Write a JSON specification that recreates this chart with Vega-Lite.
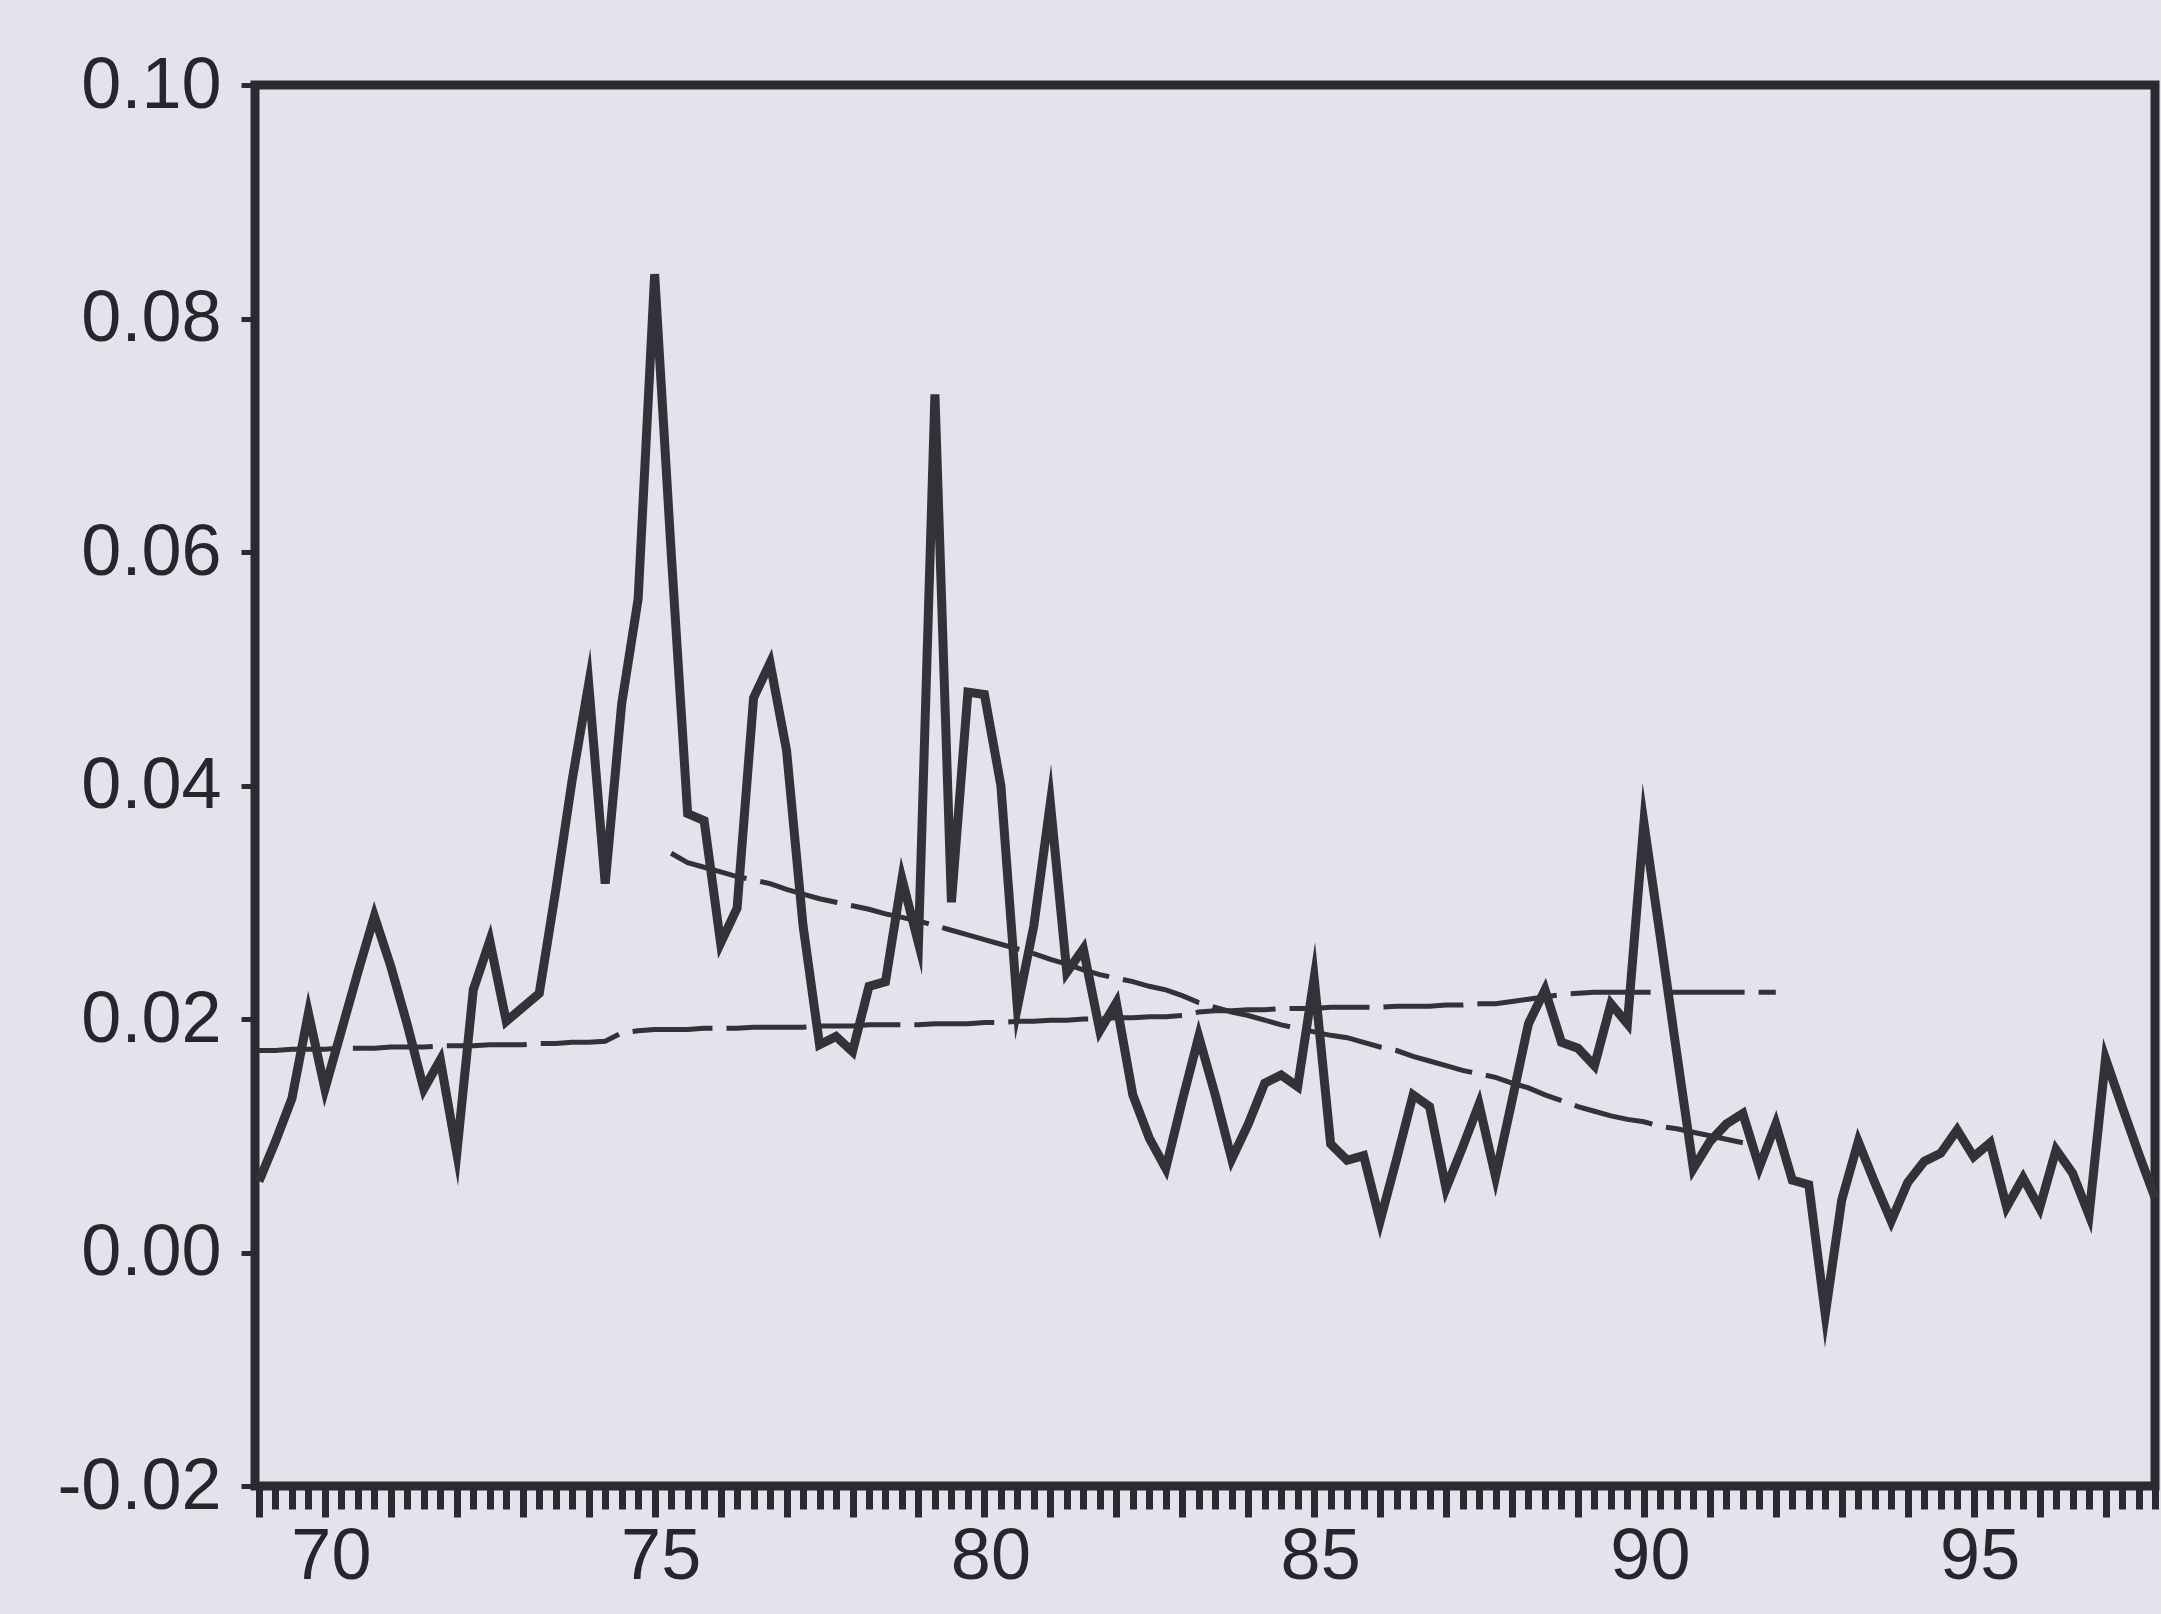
{
  "$schema": "https://vega.github.io/schema/vega-lite/v6.json",
  "width": 1900,
  "height": 1401,
  "autosize": {"type": "none"},
  "padding": {"left": 255, "top": 85, "right": 6, "bottom": 128},
  "background": "#e4e3ec",
  "datasets": {
    "actual": [
      {"t": 69, "v": 0.0061}, {"t": 69.25, "v": 0.0095}, {"t": 69.5, "v": 0.0132}, {"t": 69.75, "v": 0.0205},
      {"t": 70, "v": 0.0140}, {"t": 70.25, "v": 0.0190}, {"t": 70.5, "v": 0.0240}, {"t": 70.75, "v": 0.0288},
      {"t": 71, "v": 0.0245}, {"t": 71.25, "v": 0.0195}, {"t": 71.5, "v": 0.0140}, {"t": 71.75, "v": 0.0165},
      {"t": 72, "v": 0.0085}, {"t": 72.25, "v": 0.0225}, {"t": 72.5, "v": 0.0267}, {"t": 72.75, "v": 0.0198},
      {"t": 73, "v": 0.0210}, {"t": 73.25, "v": 0.0222}, {"t": 73.5, "v": 0.0310}, {"t": 73.75, "v": 0.0405},
      {"t": 74, "v": 0.0487}, {"t": 74.25, "v": 0.0316}, {"t": 74.5, "v": 0.0470}, {"t": 74.75, "v": 0.0560},
      {"t": 75, "v": 0.0838}, {"t": 75.25, "v": 0.0600}, {"t": 75.5, "v": 0.0376}, {"t": 75.75, "v": 0.0370},
      {"t": 76, "v": 0.0265}, {"t": 76.25, "v": 0.0295}, {"t": 76.5, "v": 0.0475}, {"t": 76.75, "v": 0.0505},
      {"t": 77, "v": 0.0430}, {"t": 77.25, "v": 0.0280}, {"t": 77.5, "v": 0.0178}, {"t": 77.75, "v": 0.0185},
      {"t": 78, "v": 0.0172}, {"t": 78.25, "v": 0.0228}, {"t": 78.5, "v": 0.0232}, {"t": 78.75, "v": 0.0320},
      {"t": 79, "v": 0.0265}, {"t": 79.25, "v": 0.0735}, {"t": 79.5, "v": 0.0300}, {"t": 79.75, "v": 0.0480},
      {"t": 80, "v": 0.0478}, {"t": 80.25, "v": 0.0400}, {"t": 80.5, "v": 0.0210}, {"t": 80.75, "v": 0.0280},
      {"t": 81, "v": 0.0385}, {"t": 81.25, "v": 0.0240}, {"t": 81.5, "v": 0.0260}, {"t": 81.75, "v": 0.0190},
      {"t": 82, "v": 0.0214}, {"t": 82.25, "v": 0.0135}, {"t": 82.5, "v": 0.0098}, {"t": 82.75, "v": 0.0072},
      {"t": 83, "v": 0.0130}, {"t": 83.25, "v": 0.0185}, {"t": 83.5, "v": 0.0135}, {"t": 83.75, "v": 0.0080},
      {"t": 84, "v": 0.0110}, {"t": 84.25, "v": 0.0145}, {"t": 84.5, "v": 0.0152}, {"t": 84.75, "v": 0.0142},
      {"t": 85, "v": 0.0235}, {"t": 85.25, "v": 0.0093}, {"t": 85.5, "v": 0.0079}, {"t": 85.75, "v": 0.0083},
      {"t": 86, "v": 0.0027}, {"t": 86.25, "v": 0.0080}, {"t": 86.5, "v": 0.0135}, {"t": 86.75, "v": 0.0125},
      {"t": 87, "v": 0.0055}, {"t": 87.25, "v": 0.0090}, {"t": 87.5, "v": 0.0127}, {"t": 87.75, "v": 0.0065},
      {"t": 88, "v": 0.0130}, {"t": 88.25, "v": 0.0196}, {"t": 88.5, "v": 0.0225}, {"t": 88.75, "v": 0.0180},
      {"t": 89, "v": 0.0175}, {"t": 89.25, "v": 0.0160}, {"t": 89.5, "v": 0.0213}, {"t": 89.75, "v": 0.0196},
      {"t": 90, "v": 0.0368}, {"t": 90.25, "v": 0.0270}, {"t": 90.5, "v": 0.0170}, {"t": 90.75, "v": 0.0072},
      {"t": 91, "v": 0.0095}, {"t": 91.25, "v": 0.0110}, {"t": 91.5, "v": 0.0119}, {"t": 91.75, "v": 0.0073},
      {"t": 92, "v": 0.0110}, {"t": 92.25, "v": 0.0062}, {"t": 92.5, "v": 0.0058}, {"t": 92.75, "v": -0.0053},
      {"t": 93, "v": 0.0045}, {"t": 93.25, "v": 0.0095}, {"t": 93.5, "v": 0.0060}, {"t": 93.75, "v": 0.0027},
      {"t": 94, "v": 0.0060}, {"t": 94.25, "v": 0.0078}, {"t": 94.5, "v": 0.0085}, {"t": 94.75, "v": 0.0105},
      {"t": 95, "v": 0.0082}, {"t": 95.25, "v": 0.0094}, {"t": 95.5, "v": 0.0039}, {"t": 95.75, "v": 0.0064},
      {"t": 96, "v": 0.0038}, {"t": 96.25, "v": 0.0088}, {"t": 96.5, "v": 0.0068}, {"t": 96.75, "v": 0.0032},
      {"t": 97, "v": 0.0166}, {"t": 97.25, "v": 0.0125}, {"t": 97.5, "v": 0.0085}, {"t": 97.75, "v": 0.0047}
    ],
    "level": [
      {"t": 69, "v": 0.0173}, {"t": 69.25, "v": 0.0173}, {"t": 69.5, "v": 0.0174}, {"t": 69.75, "v": 0.0174},
      {"t": 70, "v": 0.0174}, {"t": 70.25, "v": 0.0175}, {"t": 70.5, "v": 0.0175}, {"t": 70.75, "v": 0.0175},
      {"t": 71, "v": 0.0176}, {"t": 71.25, "v": 0.0176}, {"t": 71.5, "v": 0.0176}, {"t": 71.75, "v": 0.0177},
      {"t": 72, "v": 0.0177}, {"t": 72.25, "v": 0.0177}, {"t": 72.5, "v": 0.0178}, {"t": 72.75, "v": 0.0178},
      {"t": 73, "v": 0.0178}, {"t": 73.25, "v": 0.0179}, {"t": 73.5, "v": 0.0179}, {"t": 73.75, "v": 0.0180},
      {"t": 74, "v": 0.0180}, {"t": 74.25, "v": 0.0181}, {"t": 74.5, "v": 0.0188}, {"t": 74.75, "v": 0.0190},
      {"t": 75, "v": 0.0191}, {"t": 75.25, "v": 0.0191}, {"t": 75.5, "v": 0.0191}, {"t": 75.75, "v": 0.0192},
      {"t": 76, "v": 0.0192}, {"t": 76.25, "v": 0.0192}, {"t": 76.5, "v": 0.0193}, {"t": 76.75, "v": 0.0193},
      {"t": 77, "v": 0.0193}, {"t": 77.25, "v": 0.0193}, {"t": 77.5, "v": 0.0194}, {"t": 77.75, "v": 0.0194},
      {"t": 78, "v": 0.0194}, {"t": 78.25, "v": 0.0195}, {"t": 78.5, "v": 0.0195}, {"t": 78.75, "v": 0.0195},
      {"t": 79, "v": 0.0195}, {"t": 79.25, "v": 0.0196}, {"t": 79.5, "v": 0.0196}, {"t": 79.75, "v": 0.0196},
      {"t": 80, "v": 0.0197}, {"t": 80.25, "v": 0.0197}, {"t": 80.5, "v": 0.0198}, {"t": 80.75, "v": 0.0198},
      {"t": 81, "v": 0.0199}, {"t": 81.25, "v": 0.0199}, {"t": 81.5, "v": 0.0200}, {"t": 81.75, "v": 0.0200},
      {"t": 82, "v": 0.0201}, {"t": 82.25, "v": 0.0201}, {"t": 82.5, "v": 0.0202}, {"t": 82.75, "v": 0.0202},
      {"t": 83, "v": 0.0203}, {"t": 83.25, "v": 0.0206}, {"t": 83.5, "v": 0.0207}, {"t": 83.75, "v": 0.0207},
      {"t": 84, "v": 0.0208}, {"t": 84.25, "v": 0.0208}, {"t": 84.5, "v": 0.0209}, {"t": 84.75, "v": 0.0209},
      {"t": 85, "v": 0.0209}, {"t": 85.25, "v": 0.0210}, {"t": 85.5, "v": 0.0210}, {"t": 85.75, "v": 0.0210},
      {"t": 86, "v": 0.0210}, {"t": 86.25, "v": 0.0211}, {"t": 86.5, "v": 0.0211}, {"t": 86.75, "v": 0.0211},
      {"t": 87, "v": 0.0212}, {"t": 87.25, "v": 0.0212}, {"t": 87.5, "v": 0.0213}, {"t": 87.75, "v": 0.0213},
      {"t": 88, "v": 0.0215}, {"t": 88.25, "v": 0.0217}, {"t": 88.5, "v": 0.0219}, {"t": 88.75, "v": 0.0221},
      {"t": 89, "v": 0.0222}, {"t": 89.25, "v": 0.0223}, {"t": 89.5, "v": 0.0223}, {"t": 89.75, "v": 0.0223},
      {"t": 90, "v": 0.0223}, {"t": 90.25, "v": 0.0223}, {"t": 90.5, "v": 0.0223}, {"t": 90.75, "v": 0.0223},
      {"t": 91, "v": 0.0223}, {"t": 91.25, "v": 0.0223}, {"t": 91.5, "v": 0.0223}, {"t": 91.75, "v": 0.0223},
      {"t": 92, "v": 0.0223}
    ],
    "trend": [
      {"t": 75.25, "v": 0.0342}, {"t": 75.5, "v": 0.0334}, {"t": 75.75, "v": 0.0330},
      {"t": 76, "v": 0.0326}, {"t": 76.25, "v": 0.0322}, {"t": 76.5, "v": 0.0319}, {"t": 76.75, "v": 0.0316},
      {"t": 77, "v": 0.0311}, {"t": 77.25, "v": 0.0307}, {"t": 77.5, "v": 0.0303}, {"t": 77.75, "v": 0.0300},
      {"t": 78, "v": 0.0297}, {"t": 78.25, "v": 0.0294}, {"t": 78.5, "v": 0.0290}, {"t": 78.75, "v": 0.0287},
      {"t": 79, "v": 0.0284}, {"t": 79.25, "v": 0.0280}, {"t": 79.5, "v": 0.0276}, {"t": 79.75, "v": 0.0272},
      {"t": 80, "v": 0.0268}, {"t": 80.25, "v": 0.0264}, {"t": 80.5, "v": 0.0260}, {"t": 80.75, "v": 0.0256},
      {"t": 81, "v": 0.0251}, {"t": 81.25, "v": 0.0247}, {"t": 81.5, "v": 0.0242}, {"t": 81.75, "v": 0.0238},
      {"t": 82, "v": 0.0235}, {"t": 82.25, "v": 0.0232}, {"t": 82.5, "v": 0.0228}, {"t": 82.75, "v": 0.0225},
      {"t": 83, "v": 0.0220}, {"t": 83.25, "v": 0.0214}, {"t": 83.5, "v": 0.0210}, {"t": 83.75, "v": 0.0206},
      {"t": 84, "v": 0.0203}, {"t": 84.25, "v": 0.0199}, {"t": 84.5, "v": 0.0195}, {"t": 84.75, "v": 0.0192},
      {"t": 85, "v": 0.0189}, {"t": 85.25, "v": 0.0186}, {"t": 85.5, "v": 0.0184}, {"t": 85.75, "v": 0.0180},
      {"t": 86, "v": 0.0176}, {"t": 86.25, "v": 0.0173}, {"t": 86.5, "v": 0.0168}, {"t": 86.75, "v": 0.0164},
      {"t": 87, "v": 0.0160}, {"t": 87.25, "v": 0.0156}, {"t": 87.5, "v": 0.0153}, {"t": 87.75, "v": 0.0150},
      {"t": 88, "v": 0.0145}, {"t": 88.25, "v": 0.0141}, {"t": 88.5, "v": 0.0135}, {"t": 88.75, "v": 0.0130},
      {"t": 89, "v": 0.0125}, {"t": 89.25, "v": 0.0121}, {"t": 89.5, "v": 0.0117}, {"t": 89.75, "v": 0.0114},
      {"t": 90, "v": 0.0112}, {"t": 90.25, "v": 0.0108}, {"t": 90.5, "v": 0.0106}, {"t": 90.75, "v": 0.0103},
      {"t": 91, "v": 0.0100}, {"t": 91.25, "v": 0.0097}, {"t": 91.5, "v": 0.0094}
    ]
  },
  "encoding": {
    "x": {
      "field": "t",
      "type": "quantitative",
      "scale": {"domain": [68.94, 97.75], "nice": false, "zero": false},
      "axis": {
        "title": null,
        "grid": false,
        "domain": false,
        "values": [69, 69.25, 69.5, 69.75, 70, 70.25, 70.5, 70.75, 71, 71.25, 71.5, 71.75, 72, 72.25, 72.5, 72.75, 73, 73.25, 73.5, 73.75, 74, 74.25, 74.5, 74.75, 75, 75.25, 75.5, 75.75, 76, 76.25, 76.5, 76.75, 77, 77.25, 77.5, 77.75, 78, 78.25, 78.5, 78.75, 79, 79.25, 79.5, 79.75, 80, 80.25, 80.5, 80.75, 81, 81.25, 81.5, 81.75, 82, 82.25, 82.5, 82.75, 83, 83.25, 83.5, 83.75, 84, 84.25, 84.5, 84.75, 85, 85.25, 85.5, 85.75, 86, 86.25, 86.5, 86.75, 87, 87.25, 87.5, 87.75, 88, 88.25, 88.5, 88.75, 89, 89.25, 89.5, 89.75, 90, 90.25, 90.5, 90.75, 91, 91.25, 91.5, 91.75, 92, 92.25, 92.5, 92.75, 93, 93.25, 93.5, 93.75, 94, 94.25, 94.5, 94.75, 95, 95.25, 95.5, 95.75, 96, 96.25, 96.5, 96.75, 97, 97.25, 97.5, 97.75],
        "labelExpr": "datum.value % 5 === 0 ? format(datum.value, 'd') : ''",
        "labelOverlap": false,
        "labelFlush": false,
        "labelOffset": 6,
        "tickSize": {"condition": {"test": "datum.value % 1 === 0", "value": 31}, "value": 23},
        "tickWidth": 7,
        "tickColor": "#2a2a30",
        "labelPadding": 4,
        "labelFont": "Liberation Sans",
        "labelFontSize": 72,
        "labelColor": "#26262c"
      }
    },
    "y": {
      "field": "v",
      "type": "quantitative",
      "scale": {"domain": [-0.02, 0.1], "nice": false, "zero": false},
      "axis": {
        "title": null,
        "grid": false,
        "domain": false,
        "values": [-0.02, 0, 0.02, 0.04, 0.06, 0.08, 0.1],
        "labelExpr": "datum.value < 0 ? '-' + format(-datum.value, '.2f') : format(datum.value, '.2f')",
        "tickSize": 14,
        "tickWidth": 5,
        "tickColor": "#2a2a30",
        "labelPadding": 20,
        "labelFont": "Liberation Sans",
        "labelFontSize": 72,
        "labelColor": "#26262c"
      }
    }
  },
  "layer": [
    {
      "data": {"name": "level"},
      "mark": {"type": "line", "color": "#323238", "strokeWidth": 5, "strokeDash": [80, 14]}
    },
    {
      "data": {"name": "trend"},
      "mark": {"type": "line", "color": "#323238", "strokeWidth": 5, "strokeDash": [80, 14]}
    },
    {
      "data": {"name": "actual"},
      "mark": {"type": "line", "color": "#323238", "strokeWidth": 9, "strokeJoin": "miter", "strokeMiterLimit": 10}
    }
  ],
  "config": {
    "view": {"stroke": "#2a2a30", "strokeWidth": 9},
    "axis": {"labelFont": "Liberation Sans"}
  }
}
